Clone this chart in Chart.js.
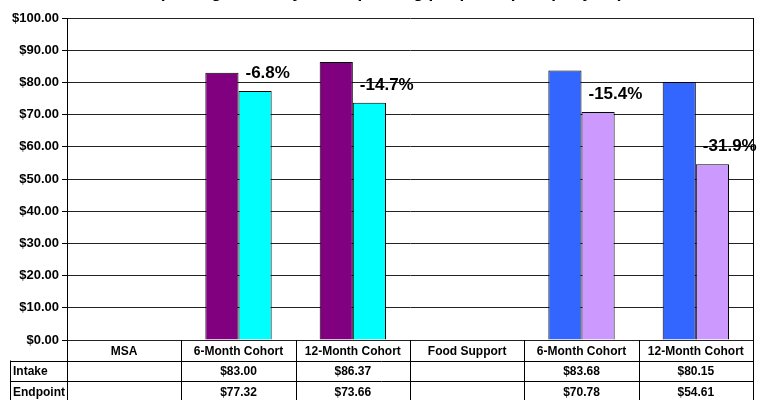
<!DOCTYPE html>
<html>
<head>
<meta charset="utf-8">
<script src="https://cdn.jsdelivr.net/npm/chart.js@4"></script>
<style>
  html, body { margin: 0; padding: 0; background: #fff; }
  #wrap { width: 764px; height: 400px; position: relative; }
</style>
</head>
<body>
<div id="wrap"><canvas id="chart"></canvas></div>
<script>
const categories = ['MSA', '6-Month Cohort', '12-Month Cohort', 'Food Support', '6-Month Cohort', '12-Month Cohort'];
const intakeValues = [null, 83.00, 86.37, null, 83.68, 80.15];
const endpointValues = [null, 77.32, 73.66, null, 70.78, 54.61];
const intakeColors = ['#800080', '#800080', '#800080', '#3366FF', '#3366FF', '#3366FF'];
const endpointColors = ['#00FFFF', '#00FFFF', '#00FFFF', '#CC99FF', '#CC99FF', '#CC99FF'];
const rowNames = ['Intake', 'Endpoint'];
const yTicks = [0, 10, 20, 30, 40, 50, 60, 70, 80, 90, 100];
const titleText = '(Average monthly food spending per participant per year)';

const FONT = '"Liberation Sans", Arial, sans-serif';
const money = v => '$' + v.toFixed(2);

// draws the clipped title, the % change labels and the data table
const extras = {
  id: 'extras',
  afterDraw(chart) {
    const ctx = chart.ctx;
    const area = chart.chartArea;
    const x = chart.scales.x;
    const half = (x.getPixelForValue(1) - x.getPixelForValue(0)) / 2;
    ctx.save();

    ctx.fillStyle = '#000';
    ctx.font = 'bold 17px ' + FONT;
    ctx.textAlign = 'center';
    ctx.textBaseline = 'alphabetic';
    ctx.fillText(titleText, 391, -2.5);

    // percent change labels
    const endMeta = chart.getDatasetMeta(1);
    ctx.font = 'bold 17px ' + FONT;
    ctx.textAlign = 'left';
    ctx.textBaseline = 'middle';
    endpointValues.forEach((v, i) => {
      if (v == null) return;
      const bar = endMeta.data[i];
      const pct = (v - intakeValues[i]) / intakeValues[i] * 100;
      ctx.fillText(pct.toFixed(1) + '%', bar.x - bar.width / 2 + 7, bar.y - 18);
    });

    // table
    const top = area.bottom;
    const rowH = 20.5;
    const leftEdge = 10;
    ctx.strokeStyle = '#000';
    ctx.lineWidth = 1;
    ctx.beginPath();
    for (let r = 1; r <= 3; r++) {
      const y = Math.round(top + r * rowH) + 0.5;
      ctx.moveTo(leftEdge, y);
      ctx.lineTo(area.right, y);
    }
    ctx.moveTo(leftEdge + 0.5, top + rowH);
    ctx.lineTo(leftEdge + 0.5, chart.height);
    for (let i = 0; i <= categories.length; i++) {
      const cx = Math.round(x.getPixelForValue(i) - half) + 0.5;
      ctx.moveTo(cx, i === categories.length ? area.top : top);
      ctx.lineTo(cx, chart.height);
    }
    ctx.stroke();

    ctx.font = 'bold 12px ' + FONT;
    ctx.textBaseline = 'middle';
    ctx.textAlign = 'center';
    categories.forEach((c, i) => {
      const cx = x.getPixelForValue(i);
      ctx.fillText(c, cx, top + rowH / 2 + 1);
      if (intakeValues[i] != null) ctx.fillText(money(intakeValues[i]), cx, top + rowH * 1.5 + 1);
      if (endpointValues[i] != null) ctx.fillText(money(endpointValues[i]), cx, top + rowH * 2.5 + 1);
    });
    ctx.textAlign = 'left';
    rowNames.forEach((n, r) => {
      ctx.fillText(n, leftEdge + 3, top + rowH * (r + 1.5) + 1);
    });
    ctx.restore();
  }
};

new Chart(document.getElementById('chart'), {
  type: 'bar',
  data: {
    labels: categories,
    datasets: [
      { label: 'Intake', data: intakeValues, backgroundColor: intakeColors, borderColor: '#000', borderWidth: 1 },
      { label: 'Endpoint', data: endpointValues, backgroundColor: endpointColors, borderColor: '#000', borderWidth: 1 }
    ]
  },
  options: {
    responsive: true,
    maintainAspectRatio: false,
    animation: false,
    datasets: { bar: { categoryPercentage: 0.58, barPercentage: 1.0 } },
    layout: { padding: { top: 18, right: 11, bottom: 60, left: 0 } },
    plugins: { legend: { display: false }, tooltip: { enabled: false }, title: { display: false } },
    scales: {
      x: { display: false },
      y: {
        min: yTicks[0],
        max: yTicks[yTicks.length - 1],
        afterBuildTicks: s => { s.ticks = yTicks.map(v => ({ value: v })); },
        afterFit: s => { s.width = 67; },
        border: { display: true, color: '#000', width: 1 },
        grid: { color: '#222', lineWidth: 1, tickLength: 5, tickColor: '#000' },
        ticks: {
          padding: 3,
          color: '#000',
          font: { family: FONT, size: 13, weight: 'bold' },
          callback: v => money(v)
        }
      }
    }
  },
  plugins: [extras]
});
</script>
</body>
</html>
